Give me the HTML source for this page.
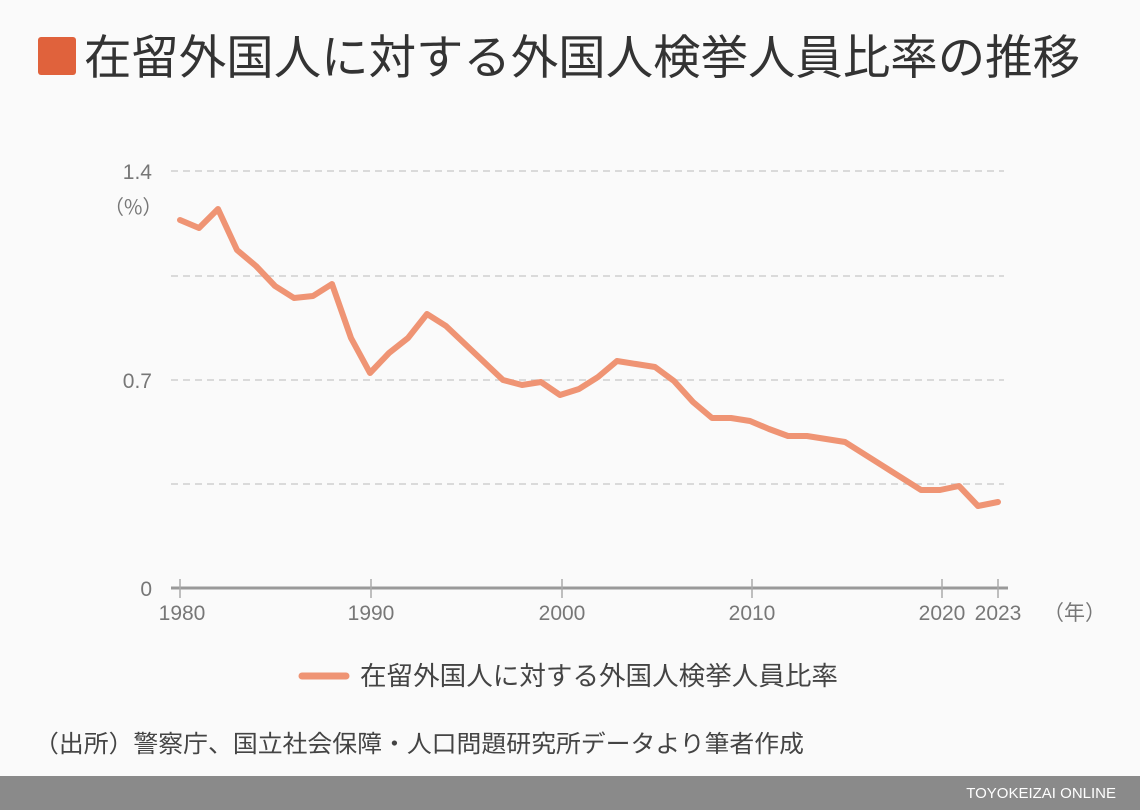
<!DOCTYPE html>
<html><head><meta charset="utf-8"><style>
html,body{margin:0;padding:0;background:#fafafa;}
svg{display:block;font-family:"Liberation Sans","Noto Sans CJK JP",sans-serif;}
</style></head><body>
<svg width="1140" height="810" viewBox="0 0 1140 810" xmlns="http://www.w3.org/2000/svg">
<rect width="1140" height="810" fill="#fafafa"/>
<rect x="38" y="37" width="38" height="38" rx="3" fill="#e0623c"/>
<text x="84" y="74" font-size="47" fill="#333" font-family="Noto Sans CJK JP, sans-serif" textLength="996" lengthAdjust="spacingAndGlyphs">在留外国人に対する外国人検挙人員比率の推移</text>
<g stroke="#cfcfcf" stroke-width="1.5" stroke-dasharray="7,5">
<line x1="171" y1="171" x2="1004" y2="171"/>
<line x1="171" y1="276" x2="1004" y2="276"/>
<line x1="171" y1="380" x2="1004" y2="380"/>
<line x1="171" y1="484" x2="1004" y2="484"/>
</g>
<g font-size="21" fill="#777" text-anchor="end">
<text x="152" y="179">1.4</text>
<text x="152" y="388">0.7</text>
<text x="152" y="596">0</text>
</g>
<text x="104" y="214" font-size="20" fill="#777" font-family="Noto Sans CJK JP, sans-serif">（%）</text>
<line x1="171" y1="588" x2="1008" y2="588" stroke="#999" stroke-width="3"/>
<g stroke="#aaa" stroke-width="1.5">
<line x1="180" y1="579" x2="180" y2="598"/><line x1="371" y1="579" x2="371" y2="598"/>
<line x1="562" y1="579" x2="562" y2="598"/><line x1="752" y1="579" x2="752" y2="598"/>
<line x1="942" y1="579" x2="942" y2="598"/><line x1="998" y1="579" x2="998" y2="598"/>
</g>
<g font-size="21" fill="#777" text-anchor="middle">
<text x="182" y="620">1980</text><text x="371" y="620">1990</text><text x="562" y="620">2000</text>
<text x="752" y="620">2010</text><text x="942" y="620">2020</text><text x="998" y="620">2023</text>
</g>
<text x="1043" y="620" font-size="21" fill="#777" font-family="Noto Sans CJK JP, sans-serif">（年）</text>
<polyline fill="none" stroke="#ef9474" stroke-width="6" stroke-linejoin="round" stroke-linecap="round"
points="180,220 199,228 218,209 237,250 256,266 275,286 294,298 313,296 332,284 351,338 370,373 389,353 408,338 427,314 446,326 465,344 484,362 503,380 522,385 541,382 560,395 579,389 598,377 617,361 636,364 655,367 674,381 693,402 712,418 731,418 750,421 769,429 788,436 807,436 826,439 845,442 864,454 883,466 902,478 921,490 940,490 959,486 978,506 998,502"/>
<line x1="302" y1="676" x2="346" y2="676" stroke="#ef9474" stroke-width="7" stroke-linecap="round"/>
<text x="360" y="685" font-size="26" fill="#444" font-family="Noto Sans CJK JP, sans-serif" textLength="478" lengthAdjust="spacingAndGlyphs">在留外国人に対する外国人検挙人員比率</text>
<text x="34" y="752" font-size="24" fill="#444" font-family="Noto Sans CJK JP, sans-serif" textLength="770" lengthAdjust="spacingAndGlyphs">（出所）警察庁、国立社会保障・人口問題研究所データより筆者作成</text>
<rect x="0" y="776" width="1140" height="34" fill="#8a8a8a"/>
<text x="1116" y="798" font-size="15" fill="#fff" text-anchor="end">TOYOKEIZAI ONLINE</text>
</svg>
</body></html>
